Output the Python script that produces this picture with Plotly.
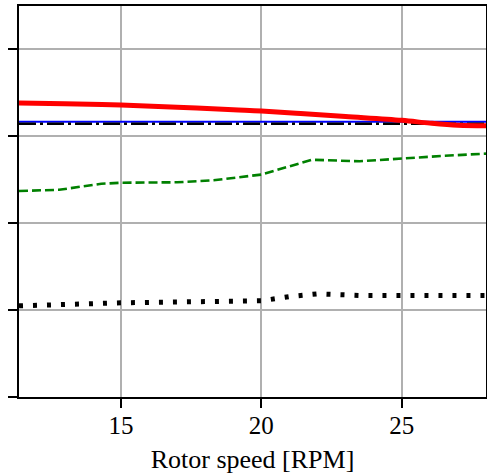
import plotly.graph_objects as go

# Rotor speed [RPM] sample positions for each series
red_x = [11.37, 13, 15, 17, 19, 20, 21.4, 23, 25, 26, 27, 28]
red_y = [3.383, 3.375, 3.360, 3.335, 3.305, 3.291, 3.263, 3.228, 3.184, 3.152, 3.128, 3.122]

blue_x = [11.37, 28]
blue_y = [3.169, 3.169]

dashdot_x = [11.37, 28]
dashdot_y = [3.146, 3.146]

green_x = [11.37, 12.8, 14.3, 15, 17, 18.3, 20, 21.8, 23.5, 25, 26.5, 28]
green_y = [2.371, 2.385, 2.454, 2.466, 2.471, 2.494, 2.560, 2.730, 2.713, 2.747, 2.776, 2.801]

dot_x = [11.37, 12.8, 14.3, 15, 18.3, 20, 21, 22, 23.5, 25, 28]
dot_y = [1.049, 1.057, 1.077, 1.084, 1.092, 1.107, 1.155, 1.187, 1.169, 1.169, 1.167]

x_ticks = [15, 20, 25]
y_ticks = [0, 1, 2, 3, 4]

fig = go.Figure()
fig.add_trace(go.Scatter(x=dot_x, y=dot_y, mode="lines",
                         line=dict(color="black", width=5, dash="4px,10px")))
fig.add_trace(go.Scatter(x=green_x, y=green_y, mode="lines",
                         line=dict(color="#008000", width=2.6, dash="9px,4px")))
fig.add_trace(go.Scatter(x=blue_x, y=blue_y, mode="lines",
                         line=dict(color="#0000ff", width=2)))
fig.add_trace(go.Scatter(x=dashdot_x, y=dashdot_y, mode="lines",
                         line=dict(color="black", width=2.5, dash="17px,4px,3px,4px")))
fig.add_trace(go.Scatter(x=red_x, y=red_y, mode="lines", line_shape="spline",
                         line=dict(color="#ff0000", width=5)))

axis_common = dict(showline=True, linecolor="black", linewidth=2, mirror=True,
                   showgrid=True, gridcolor="#b0b0b0", gridwidth=2,
                   ticks="outside", ticklen=9, tickwidth=2, tickcolor="black",
                   zeroline=False, automargin=False)

serif = "Liberation Serif"

fig.update_layout(
    width=487, height=474,
    margin=dict(l=19, r=1, t=6, b=77),
    paper_bgcolor="white", plot_bgcolor="white",
    showlegend=False,
    font=dict(family=serif, size=25, color="black"),
    xaxis=dict(range=[11.37, 28], tickvals=x_ticks, ticklabelstandoff=-4,
               title=dict(text="Rotor speed [RPM]", font=dict(family=serif, size=26)),
               tickfont=dict(family=serif, size=25), **axis_common),
    yaxis=dict(range=[0, 4.5], tickvals=y_ticks, showticklabels=False, **axis_common),
)

fig.write_html("out.html", config={"displayModeBar": False},
               post_script="document.body.style.margin='0';document.body.style.overflow='hidden';")
